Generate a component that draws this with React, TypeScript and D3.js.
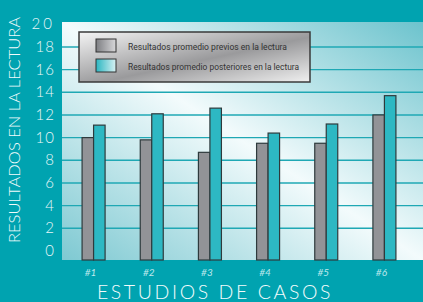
import React from 'react';
import * as d3 from 'd3';

const casos = ['#1', '#2', '#3', '#4', '#5', '#6'];
const previos = [10, 9.8, 8.7, 9.5, 9.5, 12];
const posteriores = [11.1, 12.1, 12.6, 10.4, 11.2, 13.7];
const yTicks = [0, 2, 4, 6, 8, 10, 12, 14, 16, 18, 20];
const legendLabels = [
  'Resultados promedio previos en la lectura',
  'Resultados promedio posteriores en la lectura'
];

const W = 423;
const H = 302;
const plot = { left: 62, top: 22, right: 423, bottom: 260 };

export default function App() {
  const x = d3.scalePoint<string>()
    .domain(casos)
    .range([64.5, 413.5])
    .padding(0.5);

  const y = d3.scaleLinear()
    .domain([-0.8, 20.2])
    .range([plot.bottom, plot.top]);

  const barW = 11.5;

  return (
    <svg width={W} height={H} style={{ position: 'absolute', left: 0, top: 0 }}>
      <defs>
        <linearGradient id="plotBg" x1="0" y1="1" x2="1" y2="0">
          <stop offset="0" stopColor="#7ec9d2" />
          <stop offset="0.5" stopColor="#f3fbfc" />
          <stop offset="1" stopColor="#6cc3cd" />
        </linearGradient>
        <linearGradient id="legendBg" x1="0" y1="0" x2="1" y2="1">
          <stop offset="0" stopColor="#f4f4f4" />
          <stop offset="0.55" stopColor="#9a9a9c" />
          <stop offset="1" stopColor="#f0f0f0" />
        </linearGradient>
        <linearGradient id="swGray" x1="0" y1="0" x2="1" y2="0">
          <stop offset="0" stopColor="#7d7e82" />
          <stop offset="1" stopColor="#d8d8da" />
        </linearGradient>
        <linearGradient id="swTeal" x1="0" y1="0" x2="1" y2="0">
          <stop offset="0" stopColor="#2ab6c1" />
          <stop offset="1" stopColor="#d8f1f3" />
        </linearGradient>
      </defs>

      <rect x={0} y={0} width={W} height={H} fill="#00a3b0" />
      <rect x={plot.left} y={plot.top} width={plot.right - plot.left}
        height={plot.bottom - plot.top} fill="url(#plotBg)" />

      {/* gridlines */}
      {yTicks.filter(t => t > 0 && t < 20).map(t => (
        <line key={t} x1={plot.left} x2={plot.right} y1={y(t)} y2={y(t)}
          stroke="#1fa8b4" strokeWidth={1.4} />
      ))}

      {/* bars */}
      {casos.map((c, i) => {
        const cx = x(c) as number;
        return (
          <g key={c} stroke="#2e3a3c" strokeWidth={1.2}>
            <rect x={cx - barW} y={y(previos[i])} width={barW}
              height={plot.bottom - y(previos[i])} fill="#929397" />
            <rect x={cx} y={y(posteriores[i])} width={barW}
              height={plot.bottom - y(posteriores[i])} fill="#2db8c3" />
          </g>
        );
      })}

      {/* legend */}
      <rect x={79} y={32} width={231} height={50} fill="url(#legendBg)"
        stroke="#3a3a3a" strokeWidth={1.5} />
      {legendLabels.map((l, i) => (
        <g key={l}>
          <rect x={96} y={39 + i * 20} width={20} height={13}
            fill={i === 0 ? 'url(#swGray)' : 'url(#swTeal)'}
            stroke="#333" strokeWidth={1} />
          <text x={128} y={49.5 + i * 20} fontFamily="Roboto, sans-serif"
            fontSize={9.5} fill="#333" textLength={i === 0 ? 159 : 171}
            lengthAdjust="spacingAndGlyphs">{l}</text>
        </g>
      ))}

      {/* y tick labels */}
      {yTicks.map(t => (
        <text key={t} x={55} y={y(t) + 5} textAnchor="end"
          fontFamily="Lato, sans-serif" fontWeight={300} fontSize={15}
          letterSpacing={t === 20 ? 3 : 1} fill="#e8f7f8">{t}</text>
      ))}

      {/* x labels */}
      {casos.map(c => (
        <text key={c} x={(x(c) as number) - 3} y={276} textAnchor="middle"
          fontFamily="Lato, sans-serif" fontStyle="italic" fontSize={10}
          fill="#bfe9ed">{c}</text>
      ))}

      <text x={215} y={299} textAnchor="middle" fontFamily="Lato, sans-serif"
        fontWeight={300} fontSize={19.5} letterSpacing={2.6} fill="#f2fbfc">ESTUDIOS DE CASOS</text>

      <text transform="translate(20,130) rotate(-90)" textAnchor="middle"
        fontFamily="Lato, sans-serif" fontWeight={300} fontSize={16.5}
        fill="#f2fbfc">RESULTADOS EN LA LECTURA</text>
    </svg>
  );
}
